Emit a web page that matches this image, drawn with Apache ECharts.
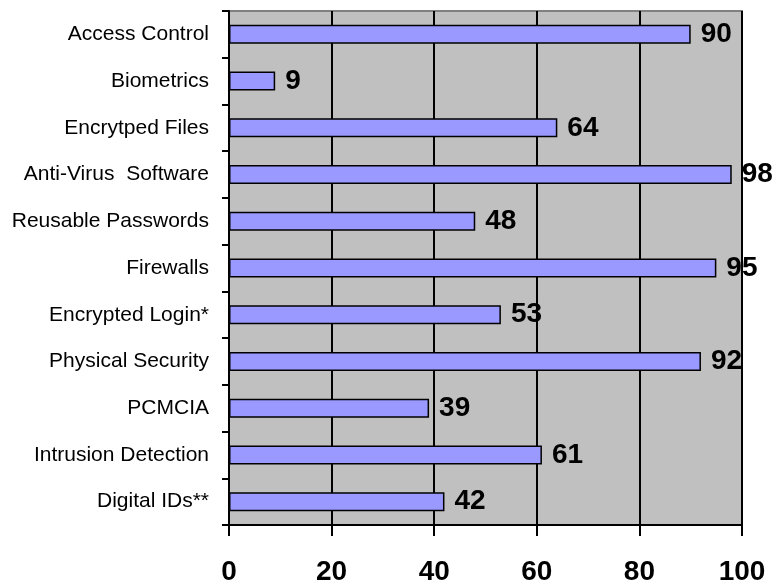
<!DOCTYPE html>
<html>
<head>
<meta charset="utf-8">
<script src="https://cdn.jsdelivr.net/npm/echarts@6/dist/echarts.min.js"></script>
<style>
  html, body { margin: 0; padding: 0; background: #ffffff; }
  #chart { width: 777px; height: 586px; }
</style>
</head>
<body>
<div id="chart"></div>
<script>
// Security technologies in use (percent of respondents)
const categories = [
  'Access Control',
  'Biometrics',
  'Encrytped Files',
  'Anti-Virus  Software',
  'Reusable Passwords',
  'Firewalls',
  'Encrypted Login*',
  'Physical Security',
  'PCMCIA',
  'Intrusion Detection',
  'Digital IDs**'
];
const values = [90, 9, 64, 98, 48, 95, 53, 92, 39, 61, 42];
const xTicks = [0, 20, 40, 60, 80, 100];

const chart = echarts.init(document.getElementById('chart'), null, { renderer: 'canvas' });

chart.setOption({
  animation: false,
  backgroundColor: '#ffffff',
  grid: {
    left: 229,
    right: 35,
    top: 11,
    bottom: 60,
    show: true,
    backgroundColor: '#c0c0c0',
    borderColor: '#808080',
    borderWidth: 2
  },
  xAxis: {
    type: 'value',
    min: xTicks[0],
    max: xTicks[xTicks.length - 1],
    interval: xTicks[1] - xTicks[0],
    axisLine: { show: true, lineStyle: { color: '#000000', width: 2 } },
    axisTick: { show: true, length: 11, lineStyle: { color: '#000000', width: 2 } },
    splitLine: { show: true, lineStyle: { color: '#000000', width: 2 } },
    axisLabel: {
      margin: 33,
      color: '#000000',
      fontFamily: 'Arial, "Liberation Sans", sans-serif',
      fontWeight: 'bold',
      fontSize: 28
    }
  },
  yAxis: {
    type: 'category',
    data: categories,
    inverse: true,
    axisLine: { show: true, lineStyle: { color: '#000000', width: 2 } },
    axisTick: { show: true, length: 7, alignWithLabel: false, lineStyle: { color: '#000000', width: 2 } },
    splitLine: { show: false },
    axisLabel: {
      margin: 20,
      color: '#000000',
      fontFamily: 'Arial, "Liberation Sans", sans-serif',
      fontSize: 21
    }
  },
  series: [{
    type: 'bar',
    data: values,
    barWidth: 19,
    itemStyle: { color: '#9999ff', borderColor: '#000000', borderWidth: 1.5 },
    label: {
      show: true,
      position: 'right',
      distance: 10,
      color: '#000000',
      fontFamily: 'Arial, "Liberation Sans", sans-serif',
      fontWeight: 'bold',
      fontSize: 28
    }
  }]
});
</script>
</body>
</html>
